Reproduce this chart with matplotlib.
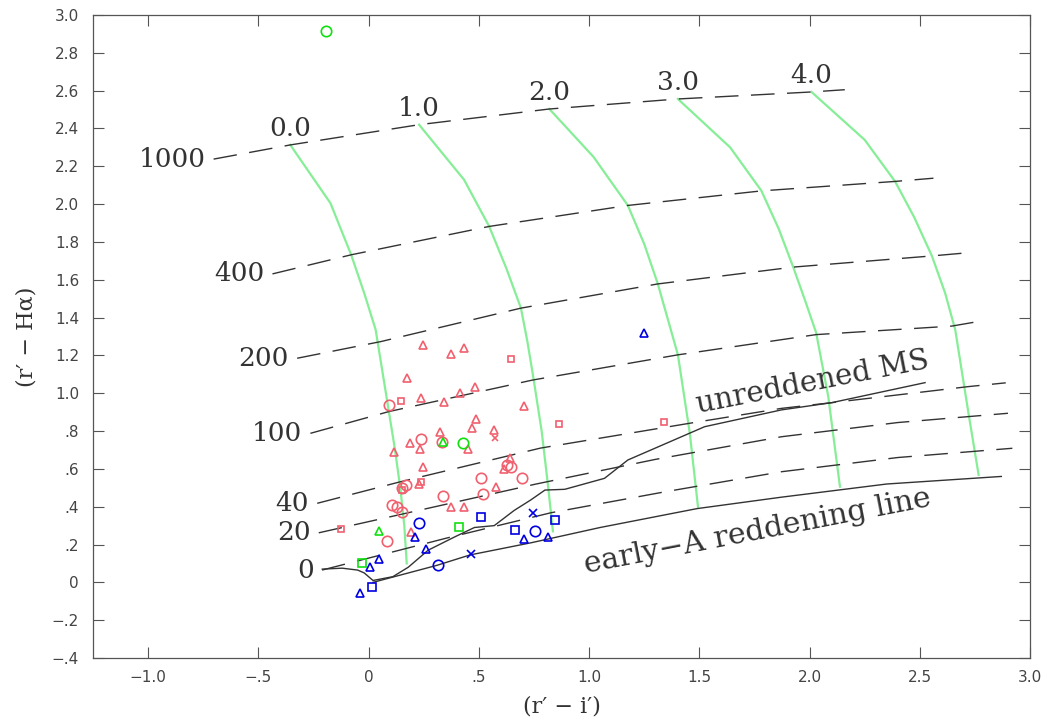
import numpy as np
import matplotlib
matplotlib.use('Agg')
import matplotlib.pyplot as plt

# equivalent-width tracks (dashed)
ew_labels = ['1000', '400', '200', '100', '40', '20', '0']
ew_x = [
    [-0.703, -0.355, 0.229, 0.82, 1.403, 2.009, 2.16],
    [-0.436, -0.079, 0.547, 1.176, 1.782, 2.388, 2.562],
    [-0.324, 0.055, 0.691, 1.312, 1.926, 2.555, 2.729],
    [-0.264, 0.092, 0.745, 1.403, 2.03, 2.645, 2.78],
    [-0.233, 0.138, 0.78, 1.45, 1.873, 2.1, 2.72, 2.89],
    [-0.226, 0.168, 0.76, 1.3, 1.873, 2.4, 2.90],
    [-0.211, 0.357, 0.827, 1.35, 1.873, 2.4, 2.92],
]
ew_y = [
    [2.238, 2.313, 2.42, 2.503, 2.556, 2.593, 2.605],
    [1.631, 1.732, 1.882, 1.993, 2.07, 2.12, 2.137],
    [1.185, 1.273, 1.45, 1.578, 1.667, 1.726, 1.744],
    [0.788, 0.903, 1.07, 1.203, 1.31, 1.355, 1.382],
    [0.418, 0.53, 0.71, 0.84, 0.92, 0.95, 1.035, 1.055],
    [0.262, 0.365, 0.52, 0.65, 0.77, 0.845, 0.894],
    [0.065, 0.235, 0.368, 0.48, 0.585, 0.66, 0.709],
]

# constant E(B-V) curves (green)
ebv_labels = ['0.0', '1.0', '2.0', '3.0', '4.0']
ebv_x = [
    [-0.355, -0.173, -0.079, -0.02, 0.032, 0.062, 0.092, 0.12, 0.145, 0.162, 0.173],
    [0.229, 0.433, 0.547, 0.625, 0.691, 0.72, 0.745, 0.785, 0.815, 0.836],
    [0.82, 1.02, 1.176, 1.25, 1.312, 1.403, 1.457, 1.494],
    [1.403, 1.64, 1.782, 1.86, 1.926, 1.98, 2.03, 2.085, 2.138],
    [2.009, 2.25, 2.388, 2.475, 2.555, 2.615, 2.661, 2.721, 2.767],
]
ebv_y = [
    [2.313, 2.005, 1.732, 1.53, 1.336, 1.12, 0.903, 0.70, 0.488, 0.30, 0.10],
    [2.42, 2.129, 1.882, 1.66, 1.45, 1.275, 1.10, 0.80, 0.50, 0.27],
    [2.503, 2.25, 1.993, 1.79, 1.578, 1.203, 0.788, 0.40],
    [2.556, 2.30, 2.07, 1.87, 1.667, 1.49, 1.32, 0.982, 0.506],
    [2.593, 2.34, 2.12, 1.93, 1.726, 1.53, 1.335, 0.894, 0.568],
]

# unreddened main sequence
ms_x = [-0.21, -0.12, -0.05, -0.02, 0.02, 0.11, 0.18, 0.27, 0.39, 0.48, 0.57, 0.66,
        0.736, 0.80, 0.89, 1.07, 1.176, 1.524, 1.873, 2.10, 2.524]
ms_y = [0.07, 0.075, 0.065, 0.05, 0.01, 0.03, 0.08, 0.17, 0.24, 0.29, 0.30, 0.38,
        0.436, 0.488, 0.492, 0.55, 0.647, 0.823, 0.912, 0.95, 1.056]

# early-A reddening line
ea_x = [0.02, 0.31, 0.46, 0.74, 1.05, 1.49, 1.87, 2.35, 2.87]
ea_y = [0.0, 0.09, 0.145, 0.21, 0.29, 0.39, 0.45, 0.52, 0.56]

# objects
red_tri_x = [0.249, 0.376, 0.433, 0.173, 0.239, 0.342, 0.415, 0.482, 0.706, 0.486, 0.467,
             0.323, 0.57, 0.188, 0.233, 0.115, 0.449, 0.249, 0.642, 0.615, 0.229, 0.577,
             0.373, 0.433, 0.194]
red_tri_y = [1.256, 1.208, 1.238, 1.079, 0.973, 0.956, 1.0, 1.032, 0.933, 0.862, 0.818,
             0.797, 0.806, 0.735, 0.705, 0.691, 0.705, 0.612, 0.656, 0.598, 0.52, 0.506,
             0.40, 0.40, 0.268]
red_circ_x = [0.092, 0.239, 0.332, 0.168, 0.153, 0.106, 0.127, 0.153, 0.085, 0.338, 0.509,
              0.521, 0.698, 0.645, 0.63]
red_circ_y = [0.938, 0.757, 0.744, 0.515, 0.497, 0.409, 0.40, 0.374, 0.22, 0.458, 0.553,
              0.467, 0.55, 0.612, 0.62]
red_sq_x = [0.645, 0.145, 0.865, 0.239, -0.127, 1.339, 0.153]
red_sq_y = [1.181, 0.959, 0.836, 0.532, 0.28, 0.85, 0.49]
red_x_x = [0.573]
red_x_y = [0.762]

green_tri_x = [0.339, 0.047]
green_tri_y = [0.744, 0.273]
green_circ_x = [0.429, -0.195]
green_circ_y = [0.735, 2.913]
green_sq_x = [0.411, -0.032]
green_sq_y = [0.291, 0.10]

blue_tri_x = [-0.04, 0.006, 0.045, 0.21, 0.261, 0.703, 0.815, 1.249]
blue_tri_y = [-0.058, 0.083, 0.122, 0.241, 0.175, 0.228, 0.238, 1.317]
blue_circ_x = [0.229, 0.315, 0.756]
blue_circ_y = [0.316, 0.092, 0.273]
blue_sq_x = [0.014, 0.509, 0.665, 0.847]
blue_sq_y = [-0.023, 0.347, 0.277, 0.33]
blue_x_x = [0.464, 0.744]
blue_x_y = [0.148, 0.368]

xticks = [-1.0, -0.5, 0.0, 0.5, 1.0, 1.5, 2.0, 2.5, 3.0]
xticklabels = ['\u22121.0', '\u2212.5', '0', '.5', '1.0', '1.5', '2.0', '2.5', '3.0']
yticks = [-0.4, -0.2, 0.0, 0.2, 0.4, 0.6, 0.8, 1.0, 1.2, 1.4, 1.6, 1.8, 2.0, 2.2, 2.4, 2.6, 2.8, 3.0]
yticklabels = ['\u2212.4', '\u2212.2', '0', '.2', '.4', '.6', '.8', '1.0', '1.2', '1.4', '1.6',
               '1.8', '2.0', '2.2', '2.4', '2.6', '2.8', '3.0']

RED = '#f0606e'
BLUE = '#0000e0'
GREEN = '#10e010'
LGREEN = '#86ee96'
INK = '#333333'
SERIF = 'DejaVu Serif'

fig = plt.figure(figsize=(10.47, 7.22), dpi=100)
ax = fig.add_axes([93 / 1047, 64 / 722, 937 / 1047, 643 / 722])

for gx, gy in zip(ebv_x, ebv_y):
    ax.plot(gx, gy, color=LGREEN, lw=1.6, zorder=1)

for lx, ly in zip(ew_x, ew_y):
    ax.plot(lx, ly, color=INK, lw=1.0, dashes=(17, 9), zorder=2)

ax.plot(ms_x, ms_y, color=INK, lw=1.0, zorder=2)
ax.plot(ea_x, ea_y, color=INK, lw=1.0, zorder=2)

# labels for the tracks
for lab, lx, ly in zip(ew_labels, ew_x, ew_y):
    ax.annotate(lab, (lx[0], ly[0]), xytext=(-6, 0), textcoords='offset points',
                ha='right', va='center', fontsize=19, family=SERIF, color=INK)
for lab, gx, gy in zip(ebv_labels, ebv_x, ebv_y):
    ax.annotate(lab, (gx[0], gy[0]), xytext=(0, 3), textcoords='offset points',
                ha='center', va='bottom', fontsize=19, family=SERIF, color=INK)

ax.text(1.495, 0.894, 'unreddened MS', rotation=11, rotation_mode='anchor',
        ha='left', va='baseline', fontsize=21, family=SERIF, color=INK)
ax.text(0.986, 0.049, 'early\u2212A reddening line', rotation=11, rotation_mode='anchor',
        ha='left', va='baseline', fontsize=21.5, family=SERIF, color=INK)

mk = dict(linestyle='none', markerfacecolor='none', markeredgewidth=1.2, zorder=3)
ax.plot(red_tri_x, red_tri_y, marker='^', ms=6, markeredgecolor=RED, **mk)
ax.plot(red_circ_x, red_circ_y, marker='o', ms=7.5, markeredgecolor=RED, **mk)
ax.plot(red_sq_x, red_sq_y, marker='s', ms=5, markeredgecolor=RED, **mk)
ax.plot(red_x_x, red_x_y, marker='x', ms=5, markeredgecolor=RED, **mk)
ax.plot(green_tri_x, green_tri_y, marker='^', ms=6, markeredgecolor=GREEN, **mk)
ax.plot(green_circ_x, green_circ_y, marker='o', ms=7.5, markeredgecolor=GREEN, **mk)
ax.plot(green_sq_x, green_sq_y, marker='s', ms=6, markeredgecolor=GREEN, **mk)
ax.plot(blue_tri_x, blue_tri_y, marker='^', ms=6, markeredgecolor=BLUE, **mk)
ax.plot(blue_circ_x, blue_circ_y, marker='o', ms=7.5, markeredgecolor=BLUE, **mk)
ax.plot(blue_sq_x, blue_sq_y, marker='s', ms=5.5, markeredgecolor=BLUE, **mk)
ax.plot(blue_x_x, blue_x_y, marker='x', ms=5.5, markeredgecolor=BLUE, **mk)

ax.set_xlim(-1.25, 3.0)
ax.set_ylim(-0.4, 3.0)
ax.set_xticks(xticks)
ax.set_xticklabels(xticklabels)
ax.set_yticks(yticks)
ax.set_yticklabels(yticklabels)
ax.tick_params(direction='in', length=8, width=0.8, color='#555555', top=True, right=True,
               labelsize=11, labelcolor='#444444')
ax.tick_params(axis='x', pad=9)
ax.tick_params(axis='y', pad=10)
for sp in ax.spines.values():
    sp.set_color('#555555')
    sp.set_linewidth(0.9)

ax.set_xlabel('(r\u2032 \u2212 i\u2032)', fontsize=16, family=SERIF, color=INK, labelpad=7)
ax.set_ylabel('(r\u2032 \u2212 H\u03b1)', fontsize=16, family=SERIF, color=INK, labelpad=10)

fig.savefig('out.png', dpi=100)
